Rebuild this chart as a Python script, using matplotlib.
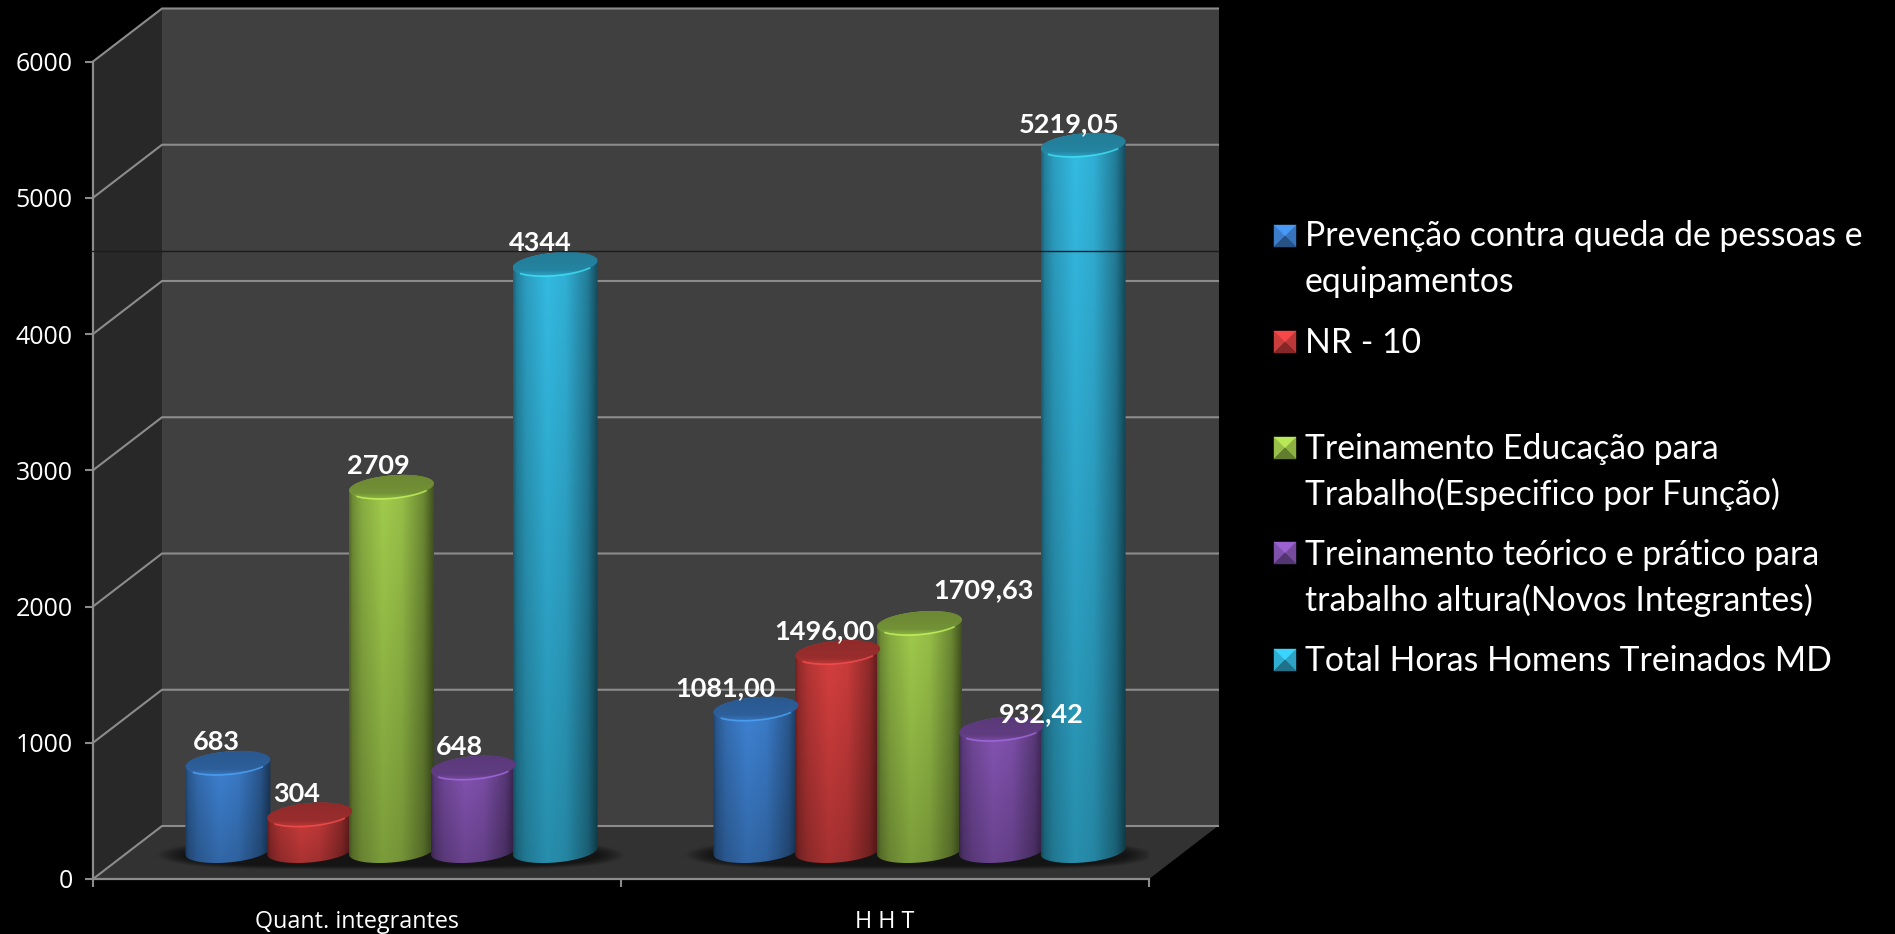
import matplotlib
matplotlib.use('Agg')
import matplotlib.pyplot as plt
from matplotlib.patches import Polygon
import numpy as np

categories = ['Quant. integrantes', 'H H T']
series_names = ['Prevenção contra queda de pessoas e\nequipamentos',
                'NR - 10',
                'Treinamento Educação para\nTrabalho(Especifico por Função)',
                'Treinamento teórico e prático para\ntrabalho altura(Novos Integrantes)',
                'Total Horas Homens Treinados MD']
prevencao = [683, 1081.00]
nr10 = [304, 1496.00]
educacao = [2709, 1709.63]
teorico = [648, 932.42]
total = [4344, 5219.05]
label_quant = ['683', '304', '2709', '648', '4344']
label_hht = ['1081,00', '1496,00', '1709,63', '932,42', '5219,05']
yticks = [0, 1000, 2000, 3000, 4000, 5000, 6000]

colors = ['#3f84d6', '#d63f3f', '#a0ca4c', '#8655b5', '#33b8e0']

plt.rcParams['font.family'] = ['Lato', 'DejaVu Sans']

W, H = 1895, 934
fig = plt.figure(figsize=(W / 100, H / 100), dpi=100, facecolor='black')

# front plane of the fake 3d box, in pixels
left, right, y0, y6000 = 93, 1149, 879, 61.5
ax = fig.add_axes([left / W, (H - y0) / H, (right - left) / W, (y0 - y6000) / H])
ax.patch.set_visible(False)
ax.set_xlim(0, 2)
ax.set_ylim(0, 6000)

# size of one pixel in data units
px = 2 / (right - left)
py = 6000 / (y0 - y6000)
depth_x = 69 * px
depth_y = 53 * py

grey = '#8c8c8c'
ax.add_patch(Polygon([(0, 0), (depth_x, depth_y), (depth_x, 6000 + depth_y), (0, 6000)],
                     fc='#282828', ec='none', clip_on=False, zorder=0))
ax.add_patch(Polygon([(depth_x, depth_y), (2 + depth_x + 1 * px, depth_y),
                      (2 + depth_x + 1 * px, 6000 + depth_y), (depth_x, 6000 + depth_y)],
                     fc='#404040', ec='none', clip_on=False, zorder=0))
ax.add_patch(Polygon([(0, 0), (2, 0), (2 + depth_x, depth_y), (depth_x, depth_y)],
                     fc='#323232', ec='none', clip_on=False, zorder=0))
for v in yticks:
    ax.plot([0, depth_x, 2 + depth_x], [v, v + depth_y, v + depth_y], color=grey, lw=1.5,
            clip_on=False, zorder=1)


def shadow(x_mid, half_w):
    # soft dark blob under one group of bars
    xs = np.linspace(-1, 1, 200)
    ys = np.linspace(-1, 1, 60)
    xx, yy = np.meshgrid(xs, ys)
    r = np.clip(1 - np.abs(xx) ** 5 - yy ** 2, 0, 1)
    img = np.zeros(xx.shape + (4,))
    img[..., 3] = np.clip(r * 1.3, 0, 0.6)
    cy = 24 * py
    ax.imshow(img, extent=[x_mid - half_w, x_mid + half_w, cy - 15 * py, cy + 15 * py],
              aspect='auto', zorder=2, interpolation='bilinear')


def ellipse(cx, cy, t):
    return cx + 42.5 * px * np.cos(t), cy + 11.5 * py * np.sin(t) + 3.5 * py * np.cos(t)


prof_x = [0, 0.04, 0.15, 0.4, 0.62, 0.88, 1]
prof_s = [0.55, 0.72, 0.88, 1.04, 0.98, 0.7, 0.42]


def cylinder(cx, value, color):
    base = 28 * py
    top = 23 * py + value
    t1 = np.linspace(np.pi, 2 * np.pi, 40)
    t2 = np.linspace(0, np.pi, 40)
    bx, by = ellipse(cx, base, t1)
    tx, ty = ellipse(cx, top, t2)
    body = Polygon(np.column_stack([np.r_[bx, tx], np.r_[by, ty]]), fc='none', ec='none')
    ax.add_patch(body)
    rgb = np.array(matplotlib.colors.to_rgb(color))
    shade_x = np.interp(np.linspace(0, 1, 120), prof_x, prof_s)
    shade_y = np.linspace(0.98, 0.74, 100)[:, None]
    img = np.clip(rgb[None, None, :] * (shade_y * shade_x)[..., None], 0, 1)
    im = ax.imshow(img, extent=[cx - 42.5 * px, cx + 42.5 * px, base - 18 * py, top + 20 * py],
                   aspect='auto', zorder=3, interpolation='bilinear')
    im.set_clip_path(body)
    # top cap, darker than the side, lighter towards the front
    t = np.linspace(0, 2 * np.pi, 80)
    cxs, cys = ellipse(cx, top, t)
    cap = Polygon(np.column_stack([cxs, cys]), fc='none', ec='none', zorder=3)
    ax.add_patch(cap)
    shade_c = np.interp(np.linspace(0, 1, 40), [0, 0.7, 1], [0.66, 0.72, 1.0])[:, None, None]
    cap_img = np.clip(rgb[None, None, :] * shade_c, 0, 1)
    im2 = ax.imshow(cap_img, extent=[cx - 42.5 * px, cx + 42.5 * px, top - 16 * py, top + 16 * py],
                    aspect='auto', zorder=3.1, interpolation='bilinear')
    im2.set_clip_path(cap)
    rx, ry = ellipse(cx, top, np.linspace(1.2 * np.pi, 1.8 * np.pi, 30))
    ax.plot(rx, ry, color=np.clip(rgb * 1.3, 0, 1), lw=1.2, alpha=0.7, zorder=3.2)


series = [prevencao, nr10, educacao, teorico, total]
offsets = np.array([-2, -1, 0, 1, 2]) * 81.8 * px
shift = 34.5 * px
centers = [0.5, 1.5]
shadow(0.5 + shift, 235 * px)
shadow(1.5 + shift, 235 * px)

for g, mid in enumerate(centers):
    for s, vals in enumerate(series):
        cylinder(mid + shift + offsets[s], vals[g], colors[s])

# data labels, nudged by hand like in the original
label_dx = [[-12, -13, -13, -14, -15], [-30, -13, 64, 40, -14]]
label_dy = [[21, 21, 21, 21, 21], [21, 21, 33, 15, 21]]
for g, (mid, labels) in enumerate(zip(centers, [label_quant, label_hht])):
    for s, txt in enumerate(labels):
        ax.text(mid + shift + offsets[s] + label_dx[g][s] * px,
                series[s][g] + 23 * py + label_dy[g][s] * py, txt, color='white',
                fontsize=19.5, fontweight='bold', ha='center', va='center', zorder=5, clip_on=False)

# thin dark line across the picture
ax.plot([-2 * px, 2 + depth_x], [(y0 - 250.5) * py] * 2, color='#1c1c1c', lw=1, clip_on=False, zorder=4)

for sp in ['top', 'right']:
    ax.spines[sp].set_visible(False)
for sp in ['left', 'bottom']:
    ax.spines[sp].set_color(grey)
    ax.spines[sp].set_linewidth(1.6)
ax.set_xticks([0, 1, 2])
ax.set_xticklabels([])
ax.set_xticks(centers, categories, minor=True)
ax.set_yticks(yticks)
ax.tick_params(axis='x', which='major', length=5.5, width=1.5, color=grey)
ax.tick_params(axis='x', which='minor', length=0, pad=22.5, labelsize=16.8, labelcolor='white')
ax.tick_params(axis='y', length=5.5, width=1.5, color=grey, labelsize=18, labelcolor='white', pad=9)
for lab in ax.get_xticklabels(minor=True) + ax.get_yticklabels():
    lab.set_family(['Open Sans', 'DejaVu Sans'])

# legend, drawn by hand in pixel space since spacing is uneven
lg = fig.add_axes([0, 0, 1, 1])
lg.set_xlim(0, W)
lg.set_ylim(H, 0)
lg.axis('off')
legend_y = [236, 342, 448, 553, 660]
text_y = [259, 343, 472, 578, 661]
for name, color, my, ty in zip(series_names, colors, legend_y, text_y):
    rgb = np.array(matplotlib.colors.to_rgb(color))
    x1, x2, y1, y2 = 1274, 1296, my - 11, my + 11
    xc, yc = (x1 + x2) / 2, (y1 + y2) / 2
    faces = [([(x1, y1), (x1, y2), (xc, yc)], rgb * 0.95),
             ([(x2, y1), (x2, y2), (xc, yc)], rgb * 0.88),
             ([(x1, y1), (x2, y1), (xc, yc)], np.clip(rgb * 1.15, 0, 1)),
             ([(x1, y2), (x2, y2), (xc, yc)], rgb * 0.62)]
    for pts, fc in faces:
        lg.add_patch(Polygon(pts, fc=fc, ec=fc, lw=0.3))
    lg.text(1305, ty, name, color='white', fontsize=24.3, ha='left', va='center', linespacing=1.5)

fig.savefig('out.png', dpi=100, facecolor='black')
